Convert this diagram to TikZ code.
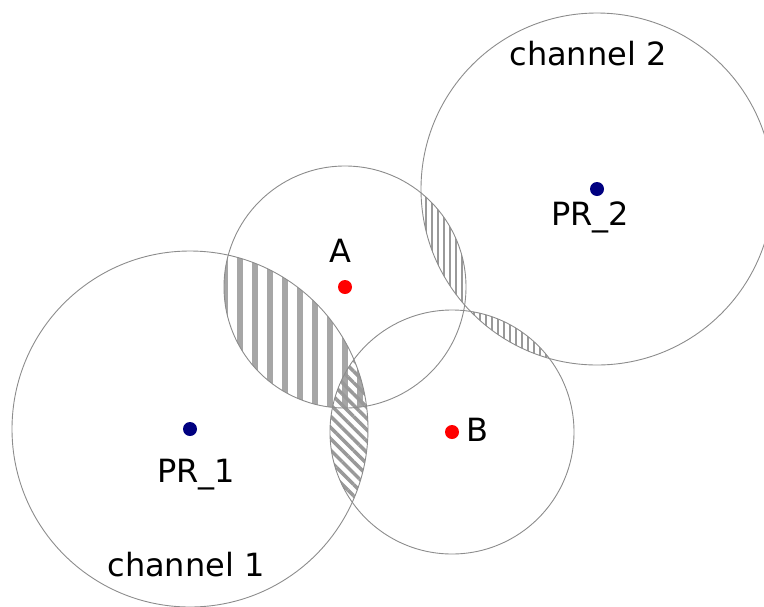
\documentclass[tikz,border=0pt]{standalone}
\usepackage{fontspec}
\setmainfont{DejaVu Sans}
\usetikzlibrary{patterns.meta}
\tikzset{reach/.style={draw=black!45,line width=0.9pt},
 wide/.style={pattern={Lines[angle=90,distance=15pt,line width=6pt]},pattern color=black!35},
 slant/.style={pattern={Lines[angle=-45,distance=8pt,line width=3.5pt]},pattern color=black!40},
 fine/.style={pattern={Lines[angle=90,distance=6pt,line width=2.5pt]},pattern color=black!40},
 su/.style={circle,fill=red,inner sep=0pt,minimum size=14pt},
 pu/.style={circle,fill=blue!50!black,inner sep=0pt,minimum size=14pt},
 lbl/.style={anchor=base,font=\fontsize{32}{38}\selectfont}}

\begin{document}
\begin{tikzpicture}[x=1pt,y=-1pt]
\useasboundingbox (0,0) rectangle (764,606);
\clip (0,0) rectangle (764,606);
\coordinate (c1) at (190,429);
\coordinate (c2) at (597,189);
\coordinate (ca) at (345,287);
\coordinate (cb) at (452,432);
% shaded overlaps
\begin{scope}
\clip (c1) circle[radius=178pt];
\fill[wide] (ca) circle[radius=121pt];
\end{scope}
\begin{scope}
\clip (c1) circle[radius=178pt];
\fill[slant] (cb) circle[radius=122pt];
\end{scope}
\begin{scope}
\clip (c2) circle[radius=176pt];
\fill[fine] (ca) circle[radius=121pt];
\fill[fine] (cb) circle[radius=122pt];
\end{scope}
% ranges
\draw[reach] (c1) circle[radius=178pt];
\draw[reach] (c2) circle[radius=176pt];
\draw[reach] (ca) circle[radius=121pt];
\draw[reach] (cb) circle[radius=122pt];
% users and receivers
\node[su] (a) at (ca) {};
\node[su] (b) at (cb) {};
\node[pu] (pr1) at (c1) {};
\node[pu] (pr2) at (c2) {};
\node[lbl] (la) at (340,262) {A};
\node[lbl] (lb) at (477,441) {B};
\node[lbl] (lpr1) at (196,482) {PR\_1};
\node[lbl] (lpr2) at (590,225) {PR\_2};
\node[lbl] (ch1) at (186,576) {channel 1};
\node[lbl] (ch2) at (588,65) {channel 2};
\end{tikzpicture}
\end{document}
